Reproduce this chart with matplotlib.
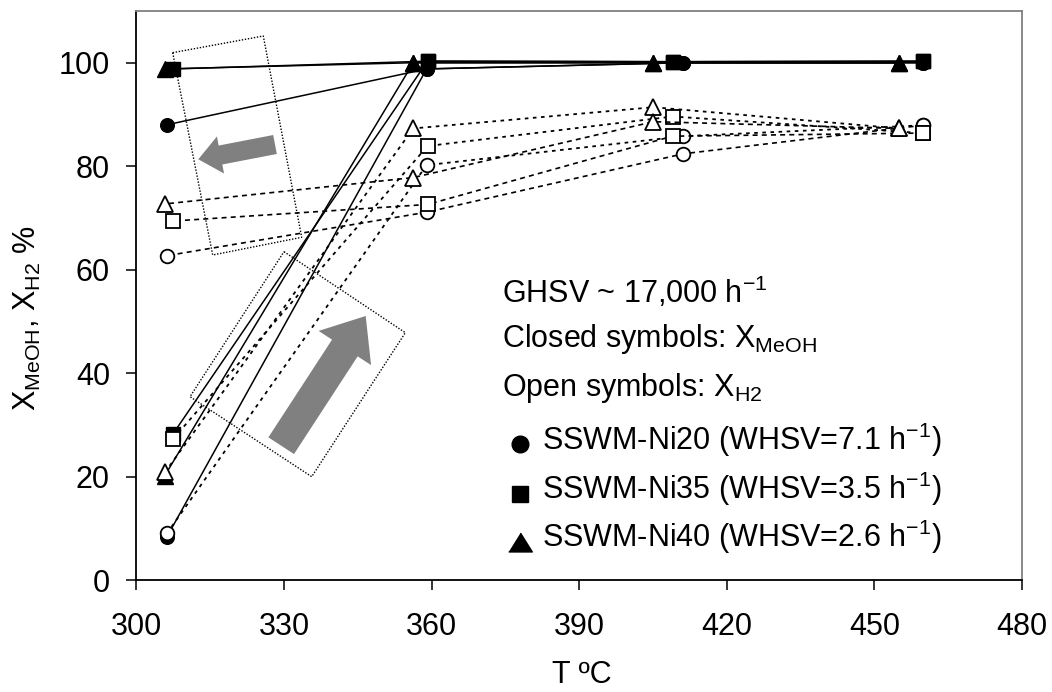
import numpy as np
import matplotlib
matplotlib.use('Agg')
from matplotlib import pyplot as plt
from matplotlib.patches import Polygon
from matplotlib.transforms import Affine2D

plt.rcParams['font.family'] = ['Liberation Sans', 'DejaVu Sans']
plt.rcParams['mathtext.fontset'] = 'custom'
plt.rcParams['mathtext.rm'] = 'Liberation Sans'
plt.rcParams['mathtext.it'] = 'Liberation Sans:italic'
plt.rcParams['font.size'] = 22

# temperatures (heating run), cooling run goes back the same way
t_ni20 = [306.2, 359.0, 411.2, 459.8]
t_ni35 = [307.5, 359.2, 409.0, 459.8]
t_ni40 = [305.8, 356.3, 405.1, 455.1]

# MeOH conversion (closed symbols)
meoh_up_ni20 = [8.3, 98.8, 100.0, 100.0]
meoh_dn_ni20 = [100.0, 100.0, 98.8, 88.0]
meoh_up_ni35 = [28.3, 100.3, 100.2, 100.3]
meoh_dn_ni35 = [100.3, 100.2, 100.3, 98.8]
meoh_up_ni40 = [20.2, 100.0, 100.0, 100.0]
meoh_dn_ni40 = [100.0, 100.0, 100.0, 98.8]

# H2 conversion (open symbols)
h2_up_ni20 = [9.0, 80.2, 85.8, 87.9]
h2_dn_ni20 = [87.9, 82.4, 71.1, 62.7]
h2_up_ni35 = [27.3, 83.9, 89.6, 86.4]
h2_dn_ni35 = [86.4, 85.8, 72.6, 69.4]
h2_up_ni40 = [20.8, 87.3, 91.4, 87.3]
h2_dn_ni40 = [87.3, 88.6, 77.8, 72.7]

legend_labels = ['SSWM-Ni20 (WHSV=7.1 h$^{\\mathregular{-1}}$)',
                 'SSWM-Ni35 (WHSV=3.5 h$^{\\mathregular{-1}}$)',
                 'SSWM-Ni40 (WHSV=2.6 h$^{\\mathregular{-1}}$)']

fig = plt.figure(figsize=(10.52, 6.92), dpi=100)
ax = fig.add_axes([136.3 / 1052, (692 - 580) / 692, 885.7 / 1052, 569 / 692])

tri = [(-1.25, -1), (1.25, -1), (0, 1)]
series = [
    (t_ni20, meoh_up_ni20, meoh_dn_ni20, h2_up_ni20, h2_dn_ni20, 'o', 9.8),
    (t_ni35, meoh_up_ni35, meoh_dn_ni35, h2_up_ni35, h2_dn_ni35, 's', 9.6),
    (t_ni40, meoh_up_ni40, meoh_dn_ni40, h2_up_ni40, h2_dn_ni40, '^', 11.5),
]

# closed symbols first, open ones on top
for t, up, dn, hu, hd, m, ms in series:
    ax.plot(t, up, color='black', lw=1.1, marker=m, ms=ms, mfc='black',
            mec='black', zorder=3)
    ax.plot(t[::-1], dn, color='black', lw=1.1, marker=m, ms=ms,
            mfc='black', mec='black', zorder=3)
for t, up, dn, hu, hd, m, ms in series:
    ax.plot(t, hu, color='black', lw=1.3, ls=(0, (2, 2.5)), marker=m,
            ms=ms, mfc='white', mec='black', mew=1.3, zorder=4)
    ax.plot(t[::-1], hd, color='black', lw=1.2, ls=(0, (3, 2.5)), marker=m,
            ms=ms, mfc='white', mec='black', mew=1.3, zorder=4)

ax.set_xlim(300, 480)
ax.set_ylim(0, 110)
ax.set_xticks(np.arange(300, 481, 30))
ax.set_yticks(np.arange(0, 101, 20))
ax.tick_params(axis='both', direction='out', length=7, width=1.1,
               labelsize=22)
ax.tick_params(axis='x', pad=16)
ax.tick_params(axis='y', pad=12)
for s in ['left', 'bottom']:
    ax.spines[s].set_linewidth(1.3)
    ax.spines[s].set_color('black')
for s in ['top', 'right']:
    ax.spines[s].set_linewidth(1.3)
    ax.spines[s].set_color('#808080')

ax.set_xlabel('T ºC', fontsize=22)
ax.xaxis.set_label_coords(0.503, -0.14)
ax.set_ylabel('X$_{\\mathregular{MeOH}}$, X$_{\\mathregular{H2}}$ %',
              fontsize=22)
ax.yaxis.set_label_coords(-0.105, 0.46)

# annotation text
ax.text(374.3, 53.6, 'GHSV ~ 17,000 h$^{\\mathregular{-1}}$', va='baseline')
ax.text(374.3, 45.0, 'Closed symbols: X$_{\\mathregular{MeOH}}$',
        va='baseline')
ax.text(374.3, 35.5, 'Open symbols: X$_{\\mathregular{H2}}$', va='baseline')
leg_y = [25.2, 15.6, 6.3]
leg_m = ['o', 's', tri]
leg_ms = [12, 11.5, 17]
for y, lab, m, ms in zip(leg_y, legend_labels, leg_m, leg_ms):
    ax.plot([378.0], [y + 1.1], marker=m, ms=ms, color='black', ls='none',
            clip_on=False)
    ax.text(382.4, y, lab, va='baseline')

# shapes in pixel coordinates (y downwards)
px = Affine2D().scale(1 / 1052, -1 / 692).translate(0, 1) + fig.transFigure


def arrow_poly(tail, tip, w, hw, hl):
    tail = np.array(tail, float)
    tip = np.array(tip, float)
    u = (tip - tail) / np.hypot(*(tip - tail))
    n = np.array([-u[1], u[0]])
    base = tip - u * hl
    return [tail + n * w / 2, base + n * w / 2, base + n * hw / 2, tip,
            base - n * hw / 2, base - n * w / 2, tail - n * w / 2]


box1 = [(172.7, 52.7), (263.3, 36), (301.7, 237.3), (212.7, 255)]
box2 = [(284, 251.7), (405.3, 332.7), (311.7, 476.7), (190, 396.7)]
for b in [box1, box2]:
    fig.patches.append(Polygon(b, closed=True, fill=False, ec='black',
                               lw=1.0, ls=(0, (1, 1.2)), transform=px))

fig.patches.append(Polygon(arrow_poly((275, 144.5), (198.3, 159.3), 19.3,
                                      37.7, 22.6), closed=True, fc='#808080',
                           ec='none', transform=px))
fig.patches.append(Polygon(arrow_poly((281.2, 445.7), (365.7, 316), 30.6,
                                      62.6, 38.2), closed=True, fc='#808080',
                           ec='none', transform=px))

fig.savefig('out.png', dpi=100)
